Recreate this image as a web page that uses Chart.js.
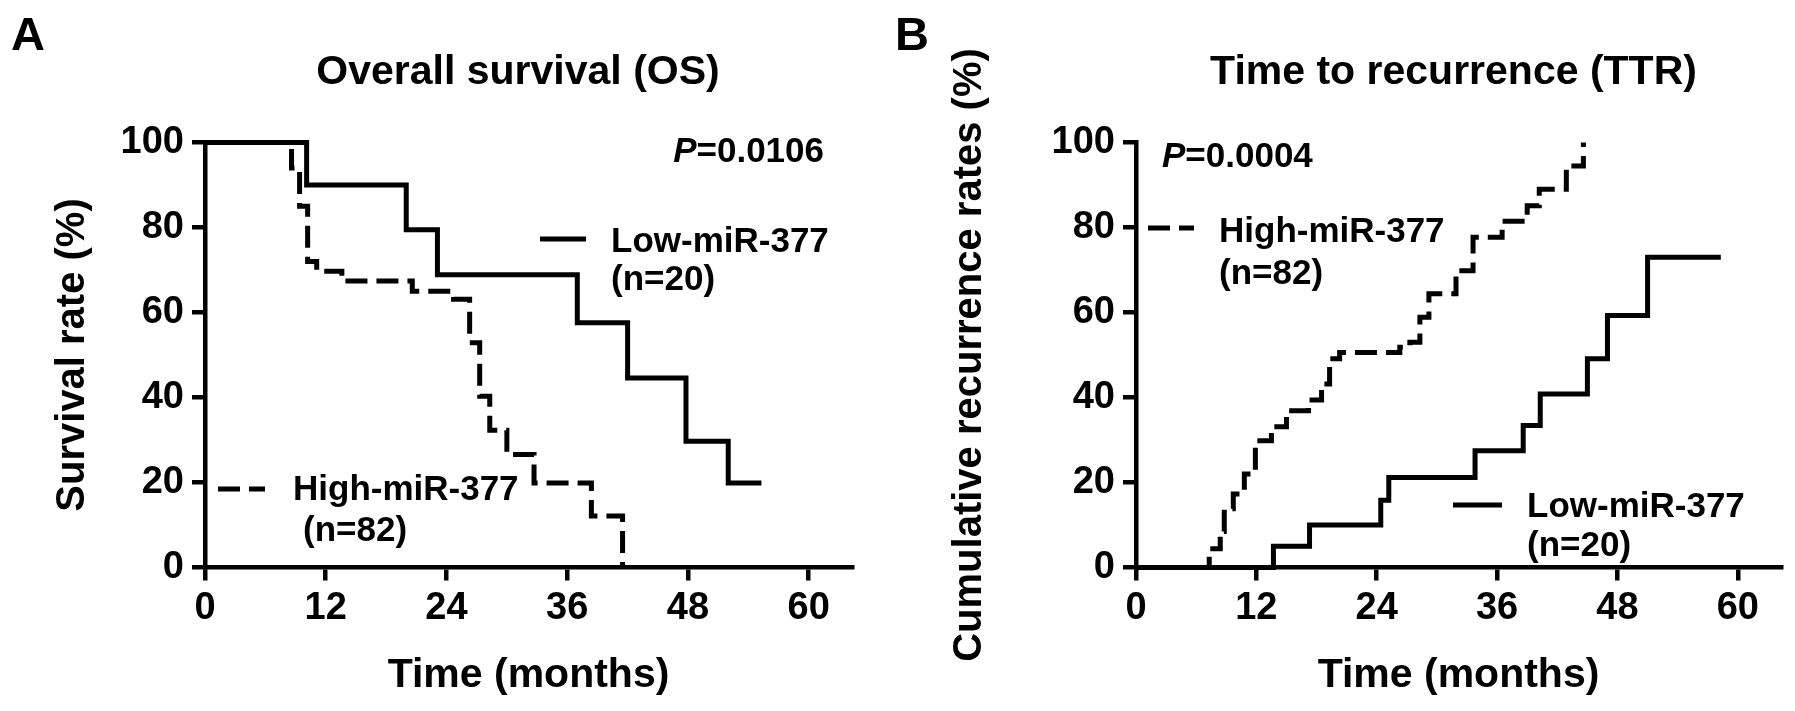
<!DOCTYPE html>
<html>
<head>
<meta charset="utf-8">
<script src="https://cdn.jsdelivr.net/npm/chart.js@4.4.1/dist/chart.umd.min.js"></script>
<style>
  html, body { margin: 0; padding: 0; background: #ffffff; width: 1795px; height: 711px; overflow: hidden; }
  canvas { position: absolute; top: 0; }
  #chartA { left: 0px; }
  #chartB { left: 895px; }
</style>
</head>
<body>
<canvas id="chartA" width="897" height="711"></canvas>
<canvas id="chartB" width="900" height="711"></canvas>
<script>
// ---------------- data ----------------
const xTickValues = [0, 12, 24, 36, 48, 60];
const yTickValues = [0, 20, 40, 60, 80, 100];
const seriesNames = ['Low-miR-377', 'High-miR-377'];
const seriesN = ['(n=20)', '(n=82)'];

// Panel A: Overall survival (%)
const osLowMonths  = [0, 10.1, 20.0, 23.1, 37.0, 42.0, 47.8, 52.0, 55.3];
const osLowRate    = [100, 90.0, 79.5, 68.9, 57.6, 44.6, 29.7, 19.9, 19.9];
const osHighMonths = [0, 8.6, 9.4, 10.2, 11.1, 13.6, 20.6, 24.7, 26.3, 27.3, 28.3, 30.0, 32.7, 38.4, 41.5];
const osHighRate   = [100, 94.0, 85.0, 72.0, 69.7, 67.4, 65.0, 63.1, 52.9, 40.3, 32.3, 26.6, 19.9, 12.1, 0];

// Panel B: Cumulative recurrence rates (%)
const ttrLowMonths  = [0, 13.7, 17.3, 24.4, 25.2, 33.8, 38.6, 40.3, 45.0, 47.0, 51.0, 58.3];
const ttrLowRate    = [0, 5.0, 10.0, 15.8, 21.2, 27.5, 33.4, 40.8, 49.1, 59.3, 73.0, 73.0];
const ttrHighMonths = [0, 7.3, 8.4, 8.8, 9.7, 10.8, 11.9, 13.5, 15.0, 17.2, 18.5, 19.3, 20.3, 26.3, 27.3, 28.3, 29.2, 31.9, 33.6, 36.5, 39.0, 40.2, 42.9, 44.6];
const ttrHighRate   = [0, 4.4, 8.5, 13.8, 17.3, 22.0, 29.8, 33.1, 36.9, 39.4, 43.2, 49.1, 50.6, 51.8, 53.0, 58.9, 64.4, 69.8, 77.7, 81.5, 85.1, 89.0, 94.5, 100];

const pValues = ['=0.0106', '=0.0004'];

// ---------------- styling ----------------
const FONT = "'Liberation Sans', Arial, Helvetica, sans-serif";
const INK = '#000000';
const LINE_W = 5;
const AXIS_W = 4.5;
const DASH = [22, 9];

function toXY(xs, ys) { return xs.map((x, i) => ({ x: x, y: ys[i] })); }

function makeDecor(cfg) {
  return {
    id: 'decor',
    afterDraw(chart) {
      const ctx = chart.ctx;
      ctx.save();
      ctx.fillStyle = INK;
      ctx.strokeStyle = INK;
      ctx.textBaseline = 'alphabetic';
      // panel letter
      ctx.font = 'bold 47px ' + FONT;
      ctx.textAlign = 'left';
      ctx.fillText(cfg.letter, cfg.letterX, 50);
      // title
      ctx.font = 'bold 41px ' + FONT;
      ctx.textAlign = 'center';
      ctx.fillText(cfg.title, cfg.titleX, 84);
      // p value
      ctx.textAlign = 'left';
      ctx.font = 'italic bold 35px ' + FONT;
      const wP = ctx.measureText('P').width;
      ctx.font = 'bold 35px ' + FONT;
      const wR = ctx.measureText(cfg.pText).width;
      const px0 = cfg.pAlign === 'right' ? cfg.pX - wP - wR : cfg.pX;
      ctx.font = 'italic bold 35px ' + FONT;
      ctx.fillText('P', px0, cfg.pY);
      ctx.font = 'bold 35px ' + FONT;
      ctx.fillText(cfg.pText, px0 + wP, cfg.pY);
      // legends
      cfg.legends.forEach(L => {
        const ds = chart.data.datasets[L.ds];
        ctx.lineWidth = ds.borderWidth;
        ctx.lineCap = 'butt';
        ctx.setLineDash(ds.borderDash || []);
        ctx.beginPath();
        ctx.moveTo(L.x1, L.ly);
        ctx.lineTo(L.x2, L.ly);
        ctx.stroke();
        ctx.setLineDash([]);
        ctx.font = 'bold 35px ' + FONT;
        ctx.textAlign = 'left';
        ctx.fillText(ds.label, L.tx, L.ty);
        ctx.fillText(seriesN[L.ds], L.nx, L.ny);
      });
      ctx.restore();
    }
  };
}

function makeChart(canvasId, cfg) {
  const common = {
    borderColor: INK, borderWidth: LINE_W, pointRadius: 0, fill: false,
    stepped: true, clip: false, borderCapStyle: 'butt', borderJoinStyle: 'miter'
  };
  return new Chart(document.getElementById(canvasId), {
    type: 'line',
    data: {
      datasets: [
        Object.assign({ label: seriesNames[0], data: toXY(cfg.lowX, cfg.lowY) }, common),
        Object.assign({ label: seriesNames[1], data: toXY(cfg.highX, cfg.highY), borderDash: DASH }, common)
      ]
    },
    options: {
      responsive: false,
      animation: false,
      devicePixelRatio: 1,
      layout: { padding: { left: 0, top: 142.5, right: cfg.padRight, bottom: 0 } },
      plugins: { legend: { display: false }, tooltip: { enabled: false }, title: { display: false } },
      scales: {
        x: {
          type: 'linear', min: 0, max: 64.3,
          afterBuildTicks: s => { s.ticks = xTickValues.map(v => ({ value: v })); },
          afterFit: s => { s.height = 143.5; },
          ticks: { color: INK, padding: 5, font: { family: FONT, size: 38, weight: 'bold' }, callback: v => String(v) },
          grid: { display: true, drawOnChartArea: false, drawTicks: true, tickLength: 13, tickWidth: AXIS_W, lineWidth: AXIS_W, color: INK, tickColor: INK },
          border: { display: true, color: INK, width: AXIS_W },
          title: { display: true, text: 'Time (months)', color: INK, font: { family: FONT, size: 41, weight: 'bold' }, padding: { top: 0, bottom: 10.6 } }
        },
        y: {
          type: 'linear', min: 0, max: 100,
          afterBuildTicks: s => { s.ticks = yTickValues.map(v => ({ value: v })); },
          afterFit: s => { s.width = cfg.yWidth; },
          ticks: { color: INK, padding: 8, font: { family: FONT, size: 38, weight: 'bold' }, callback: v => String(v) },
          grid: { display: true, drawOnChartArea: false, drawTicks: true, tickLength: 13, tickWidth: AXIS_W, lineWidth: AXIS_W, color: INK, tickColor: INK },
          border: { display: true, color: INK, width: AXIS_W },
          title: { display: true, text: cfg.yTitle, color: INK, font: { family: FONT, size: 40, weight: 'bold' }, padding: { top: cfg.yTitlePad, bottom: 0 } }
        }
      }
    },
    plugins: [makeDecor(cfg)]
  });
}

makeChart('chartA', {
  lowX: osLowMonths, lowY: osLowRate, highX: osHighMonths, highY: osHighRate,
  yWidth: 205, padRight: 45, yTitle: 'Survival rate (%)', yTitlePad: 48.7,
  letter: 'A', letterX: 11, title: 'Overall survival (OS)', titleX: 518,
  pText: pValues[0], pAlign: 'right', pX: 824, pY: 162,
  legends: [
    { ds: 0, x1: 540, x2: 586, ly: 239, tx: 611, ty: 252, nx: 611, ny: 290 },
    { ds: 1, x1: 218, x2: 265, ly: 489, tx: 293, ty: 500, nx: 303, ny: 541 }
  ]
});

makeChart('chartB', {
  lowX: ttrLowMonths, lowY: ttrLowRate, highX: ttrHighMonths, highY: ttrHighRate,
  yWidth: 241, padRight: 14, yTitle: 'Cumulative recurrence rates (%)', yTitlePad: 50.7,
  letter: 'B', letterX: 0, title: 'Time to recurrence (TTR)', titleX: 558.5,
  pText: pValues[1], pAlign: 'left', pX: 267, pY: 167,
  legends: [
    { ds: 1, x1: 253, x2: 299, ly: 228, tx: 324, ty: 242, nx: 324, ny: 284 },
    { ds: 0, x1: 558, x2: 607, ly: 505, tx: 632, ty: 517, nx: 632, ny: 556 }
  ]
});
</script>
</body>
</html>
